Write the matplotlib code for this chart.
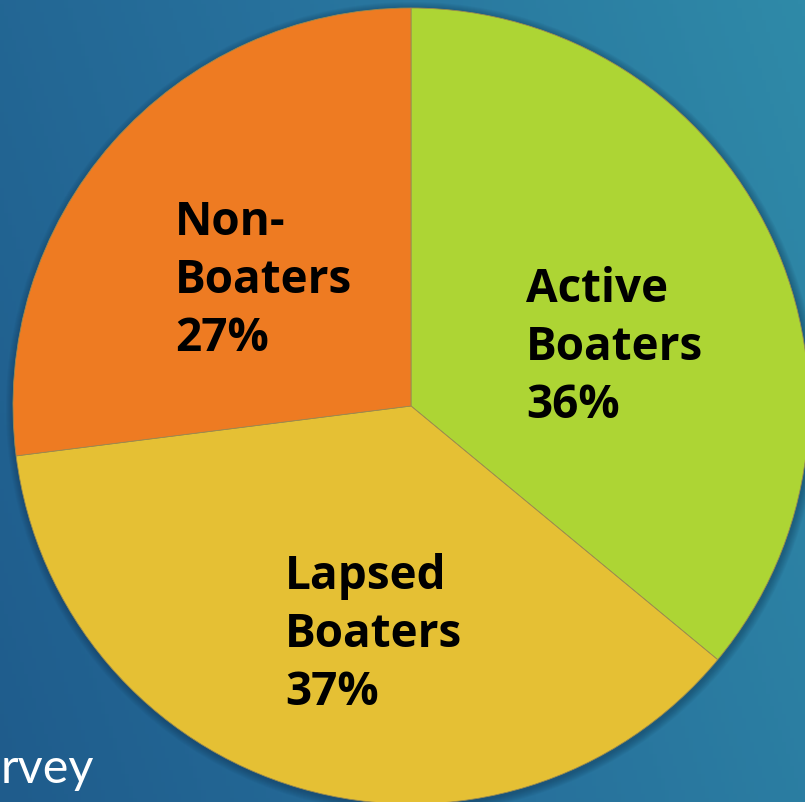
import matplotlib.pyplot as plt
import numpy as np
from matplotlib.colors import LinearSegmentedColormap
from matplotlib.patches import Circle

# Boater survey shares
labels = ['Active\nBoaters', 'Lapsed\nBoaters', 'Non-\nBoaters']
shares = [36, 37, 27]
colors = ['#ADD534', '#E5C034', '#EE7B22']

W, H = 805, 802
fig = plt.figure(figsize=(W / 100, H / 100), dpi=100)
ax = fig.add_axes([0, 0, 1, 1])
ax.set_xlim(0, W)
ax.set_ylim(0, H)
ax.axis('off')

# slide background: blue gradient, darker at the upper left
xx, yy = np.meshgrid(np.linspace(0, 1, 200), np.linspace(0, 1, 200))
t = np.clip(0.75 * xx + 0.25 * (1 - yy), 0, 1)
bg = LinearSegmentedColormap.from_list('bg', ['#1F5C8C', '#27719C', '#2F8AA8'])
ax.imshow(t, cmap=bg, extent=[0, W, 0, H], origin='upper', aspect='auto', zorder=0)

cx, cy, r = 411, H - 406, 398

# soft shadow round the pie
for k in range(8):
    ax.add_patch(Circle((cx + 1, cy - 2), r + 1 + k, color='#0C2A45',
                        alpha=0.05, lw=0, zorder=1))

ax.pie(shares, colors=colors, startangle=90, counterclock=False,
       center=(cx, cy), radius=r, frame=True,
       wedgeprops=dict(linewidth=0.6, edgecolor='#9A8A50'))
ax.set_xlim(0, W)
ax.set_ylim(0, H)
ax.set_aspect('auto')
ax.axis('off')

# label anchors (left edge, first baseline)
label_pos = [(526, 302), (285, 589), (175, 235)]
pitch = 58
for lab, val, (lx, ly) in zip(labels, shares, label_pos):
    lines = lab.split('\n') + [f'{val}%']
    for i, line in enumerate(lines):
        ax.text(lx, H - (ly + i * pitch), line, ha='left', va='baseline',
                fontsize=33, fontweight='bold', family='Open Sans',
                color='black', zorder=5)

# slide footer text, the rest of the line sits off the left edge
ax.text(1, H - 783, 'rvey', ha='left', va='baseline', fontsize=35,
        family='Lato', color='white', zorder=5)

fig.savefig('out.png', dpi=100)
